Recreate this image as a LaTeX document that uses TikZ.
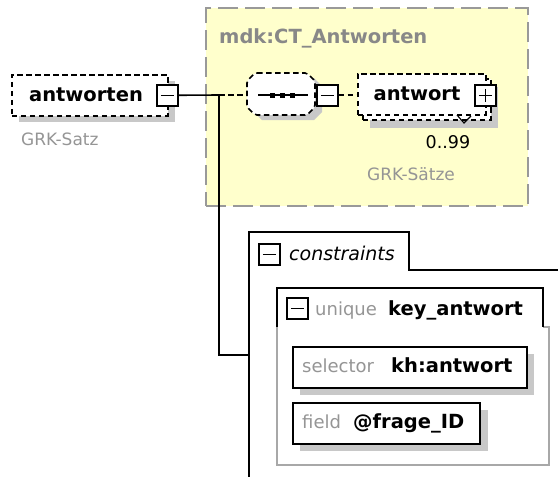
\documentclass[tikz,border=0pt]{standalone}
\usepackage{fontspec}
\setmainfont{DejaVu Sans}
\definecolor{yellowfill}{HTML}{FFFFCC}
\definecolor{framegray}{HTML}{999999}
\definecolor{titlegray}{HTML}{888888}
\definecolor{labelgray}{HTML}{959595}
\definecolor{shadowgray}{HTML}{C8C8C8}
\definecolor{thingray}{HTML}{A8A8A8}
\begin{document}
\begin{tikzpicture}[x=1pt,y=-1pt,
  dpat/.style={dash pattern=on 5.5pt off 3.5pt},
  dbox/.style={draw=black, fill=white, line width=1.6pt, dpat, inner sep=0, anchor=north west},
  sbox/.style={draw=black, fill=white, line width=1.6pt, inner sep=0, anchor=north west},
  pmbox/.style={draw=black, fill=white, line width=1.5pt, minimum width=21pt, minimum height=21pt, inner sep=0, anchor=north west},
  minusbox/.style={pmbox, path picture={\draw[line width=1.3pt] ([xshift=4pt]path picture bounding box.west) -- ([xshift=-4pt]path picture bounding box.east);}},
  plusbox/.style={pmbox, path picture={\draw[line width=1.3pt] ([xshift=4pt]path picture bounding box.west) -- ([xshift=-4pt]path picture bounding box.east); \draw[line width=1.3pt] ([yshift=-4pt]path picture bounding box.north) -- ([yshift=4pt]path picture bounding box.south);}},
  boldtxt/.style={font=\fontsize{19.5}{23}\selectfont\bfseries, inner sep=0},
  graytxt/.style={font=\fontsize{17}{21}\selectfont, text=labelgray, inner sep=0},
  keytxt/.style={font=\fontsize{18}{21}\selectfont, text=labelgray, inner sep=0},
  conn/.style={draw=black, line width=1.6pt},
  dconn/.style={conn, dpat},
  shadow/.style={fill=shadowgray, draw=none},
]
\useasboundingbox (0,0) rectangle (558,477);

% complex type frame
\node[draw=framegray, fill=yellowfill, line width=2.2pt, dash pattern=on 20pt off 7pt,
      minimum width=322pt, minimum height=198pt, inner sep=0, anchor=north west] (ct) at (205,7) {};
\node[boldtxt, text=titlegray, anchor=base west] (tct) at (219,43) {mdk:CT\_Antworten};

% antworten element
\fill[shadow] (19,81) rectangle (175,122);
\node[dbox, minimum width=156pt, minimum height=41pt] (antworten) at (11,74) {};
\node[boldtxt, anchor=base] (tantworten) at (86,101) {antworten};
\node[minusbox] (amin) at (156,84) {};
\node[graytxt, anchor=base west] (tgrk1) at (21,145) {GRK-Satz};

% sequence compositor
\fill[shadow] (262,78) -- (314,78) -- (322,86) -- (322,112) -- (314,120) -- (262,120) -- (254,112) -- (254,86) -- cycle;
\draw[black, fill=white, line width=1.6pt, dpat, rounded corners=2pt] (255,73) -- (307,73) -- (315,81) -- (315,107) -- (307,115) -- (255,115) -- (247,107) -- (247,81) -- cycle;
\coordinate (seqW) at (247,95);
\draw[line width=1.4pt] (258,95) -- (308,95);
\foreach \x in {272,282,292} \fill (\x-2.5,92.5) rectangle (\x+2.5,97.5);
\node[minusbox] (smin) at (316,84) {};

% antwort element (repeated)
\fill[shadow] (370,87) rectangle (498,128);
\node[dbox, minimum width=128pt, minimum height=41pt] (antwortback) at (362,78) {};
\node[dbox, minimum width=128pt, minimum height=41pt] (antwort) at (357,73) {};
\node[boldtxt, anchor=base] (tantwort) at (417,100) {antwort};
\node[plusbox] (apl) at (474,84) {};
\draw[line width=1.1pt] (457,115) -- (464,123) -- (471,116);
\node[font=\fontsize{17.5}{21}\selectfont, inner sep=0, anchor=base] (tocc) at (448,148) {0..99};
\node[graytxt, anchor=base] (tgrk2) at (411,180) {GRK-Sätze};

% connectors
\coordinate (jn) at (219,95);
\coordinate (cjoin) at (249,355);
\draw[conn] (amin.east) -- (jn);
\draw[dconn] (jn) -- (seqW);
\draw[dconn] (smin.east) -- (smin.east -| antwort.west);
\draw[conn] (jn) -- (jn |- cjoin) -- (cjoin);

% constraints
\draw[conn] (249,480) -- (249,232) -- (409,232) -- (409,270) -- (560,270);
\node[minusbox] (cmin) at (258,243) {};
\node[font=\fontsize{19}{23}\selectfont\itshape, inner sep=0, anchor=base west] (tcons) at (289,260) {constraints};

% unique
\draw[thingray, line width=1.1pt] (277,327) -- (277,465) -- (549,465) -- (549,327) -- (543,327);
\draw[conn] (277,327) -- (277,288) -- (543,288) -- (543,327);
\node[minusbox] (umin) at (286,297) {};
\node[keytxt, anchor=base west] (tuq) at (315,315) {unique};
\node[boldtxt, anchor=base west] (tkey) at (388,315) {key\_antwort};

% selector
\fill[shadow] (300,354) rectangle (534,395);
\node[sbox, minimum width=234pt, minimum height=41pt] (sel) at (292,346) {};
\node[keytxt, anchor=base west] (tsel) at (302,372) {selector};
\node[boldtxt, anchor=base west] (tselv) at (391,372) {kh:antwort};

% field
\fill[shadow] (300,410) rectangle (488,451);
\node[sbox, minimum width=187pt, minimum height=41pt] (fld) at (292,402) {};
\node[keytxt, anchor=base west] (tfld) at (302,428) {field};
\node[boldtxt, anchor=base west] (tfldv) at (353,428) {@frage\_ID};
\end{tikzpicture}
\end{document}
